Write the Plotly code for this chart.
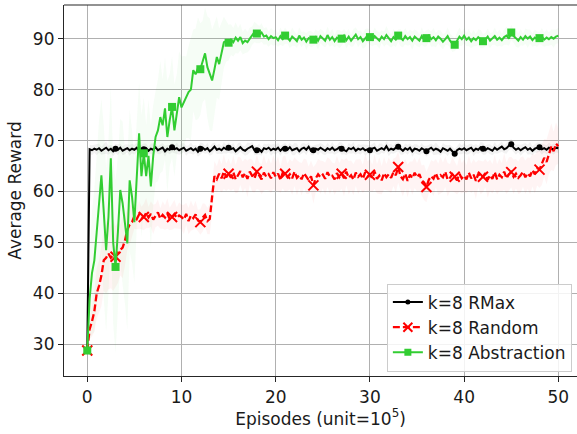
import numpy as np
import plotly.graph_objects as go

# Episodes (unit = 1e5), sampled every 0.25
episodes = np.arange(0, 201) * 0.25

rmax = [
    28.8, 68.3, 68.1, 68.4, 68.2, 68.5, 68.0, 68.3, 68.6, 68.1, 68.4, 67.9, 68.4, 68.2, 68.6, 68.0, 68.3, 68.5, 68.1, 68.4,
    68.2, 68.6, 67.9, 68.4, 68.3, 68.5, 68.0, 68.4, 68.2, 68.7, 68.1, 68.3, 68.6, 67.9, 68.4, 68.2, 68.7, 68.3, 68.5, 68.1,
    68.4, 68.6, 68.0, 68.3, 68.5, 68.1, 68.4, 67.8, 68.4, 68.6, 68.2, 68.5, 67.9, 68.3, 68.8, 68.2, 68.4, 68.1, 68.6, 68.3,
    68.6, 68.3, 68.5, 67.9, 68.4, 68.7, 68.2, 68.0, 68.4, 68.6, 68.9, 68.1, 68.1, 68.3, 67.8, 68.5, 68.3, 68.6, 68.1, 68.4,
    68.2, 68.6, 68.0, 68.5, 68.4, 68.2, 68.7, 68.1, 68.3, 68.5, 67.9, 68.4, 68.6, 68.2, 68.8, 68.0, 68.1, 68.4, 68.2, 68.6,
    68.3, 68.0, 68.5, 68.2, 68.6, 68.1, 68.3, 68.7, 68.4, 68.2, 67.9, 68.5, 68.3, 68.6, 68.0, 68.4, 68.2, 68.5, 68.1, 68.3,
    68.1, 68.4, 68.6, 68.0, 68.3, 68.5, 68.2, 68.9, 68.1, 68.4, 68.2, 68.6, 68.8, 68.3, 68.0, 68.5, 68.2, 68.6, 67.9, 68.4,
    68.3, 68.0, 68.5, 68.2, 67.9, 68.3, 68.6, 68.1, 68.4, 68.2, 67.8, 68.5, 68.3, 68.0, 68.4, 67.9, 67.4, 68.1, 68.4, 68.2,
    68.5, 68.1, 68.3, 68.6, 68.0, 68.4, 68.2, 68.7, 68.4, 68.1, 68.5, 68.3, 68.0, 68.6, 68.2, 68.5, 68.8, 68.3, 68.5, 69.0,
    69.3, 68.6, 68.2, 68.5, 68.1, 68.4, 68.7, 68.2, 68.5, 68.0, 68.4, 68.6, 68.7, 68.3, 68.5, 68.2, 68.6, 68.4, 68.3, 68.6,
    68.5,
]
rmax_std = [0.3] + [0.9, 1.0, 0.8, 1.1, 0.9, 0.8, 1.0, 1.2, 0.9, 0.8, 1.0, 0.9, 1.1, 0.8, 0.9, 1.0, 0.8, 1.1, 0.9, 1.0] * 10

random_ = [
    28.8, 33.0, 34.5, 36.5, 40.0, 41.5, 43.5, 46.5, 47.0, 47.8, 47.0, 47.5, 47.2, 48.0, 48.5, 49.0, 50.4, 52.5, 53.5, 54.0,
    55.2, 54.6, 55.5, 54.8, 55.0, 55.8, 54.9, 55.6, 54.5, 55.3, 55.9, 54.7, 55.4, 54.9, 55.7, 54.6, 55.0, 55.6, 54.8, 55.3,
    55.0, 54.5, 55.6, 54.2, 55.3, 54.8, 55.5, 54.3, 54.0, 54.9, 55.4, 54.2, 54.6, 59.0, 63.0, 62.4, 63.5, 62.6, 63.9, 62.8,
    63.5, 62.7, 63.8, 62.4, 63.3, 64.0, 62.8, 63.6, 62.5, 63.9, 63.1, 62.6, 63.9, 63.0, 62.4, 63.7, 62.9, 63.4, 62.6, 63.8,
    62.9, 63.5, 62.3, 63.7, 63.5, 62.8, 63.4, 62.6, 63.9, 62.7, 63.2, 62.4, 63.6, 62.9, 62.2, 63.0, 61.2, 62.6, 63.4, 62.8,
    63.3, 62.5, 63.8, 62.9, 63.1, 62.4, 63.6, 62.8, 63.5, 62.6, 63.9, 62.7, 63.2, 62.3, 63.7, 62.9, 63.4, 62.5, 63.8, 63.0,
    63.3, 62.6, 63.9, 62.5, 63.1, 62.2, 63.6, 62.8, 63.4, 62.7, 63.8, 63.2, 64.8, 63.0, 62.4, 63.5, 62.1, 63.3, 62.6, 63.7,
    62.8, 63.4, 62.2, 61.8, 60.9, 62.3, 63.0, 62.5, 63.6, 62.4, 63.2, 62.8, 63.9, 62.3, 62.7, 63.4, 62.9, 62.2, 63.5, 62.6,
    63.1, 62.4, 63.7, 62.6, 63.3, 62.1, 63.5, 62.7, 62.9, 63.6, 62.3, 63.2, 62.5, 63.8, 62.4, 63.3, 62.8, 63.9, 62.6, 63.4,
    63.8, 62.9, 63.5, 62.7, 63.2, 63.9, 62.8, 63.6, 63.0, 64.2, 63.4, 64.6, 64.3, 65.3, 66.6, 65.8, 67.5, 68.8, 67.9, 69.4,
    68.9,
]
random_std = [
    0.3, 2.0, 3.0, 4.0, 5.0, 5.0, 6.0, 6.0, 7.0, 7.0, 6.0, 7.0, 6.0, 6.0, 5.0, 6.0, 5.0, 4.0, 4.0, 3.0,
    2.5, 2.0, 2.8, 2.2, 2.6, 3.0, 2.1, 2.5, 2.9, 2.3, 2.6, 2.0, 2.7, 2.4, 3.0, 2.2, 2.5, 2.8, 2.1, 2.6,
    2.4, 2.9, 2.2, 2.6, 3.0, 2.3, 2.7, 2.1, 2.5, 2.8, 2.2, 2.6, 3.0, 3.5, 3.0, 2.6, 3.1, 2.8, 3.4, 2.7,
    3.0, 2.6, 3.3, 2.8, 3.5, 2.7, 3.1, 2.9, 3.6, 2.6, 3.2, 2.8, 3.4, 2.7, 3.0, 3.5, 2.6, 3.2, 2.9, 3.3,
    2.8, 3.4, 2.6, 3.1, 3.6, 2.7, 3.0, 3.3, 2.8, 3.5, 2.6, 3.2, 2.9, 3.4, 2.7, 3.1, 3.6, 2.8, 3.0, 3.3,
    2.7, 3.2, 2.9, 3.5, 2.6, 3.1, 3.4, 2.8, 3.0, 3.6, 2.7, 3.3, 2.9, 3.1, 2.6, 3.4, 3.0, 2.8, 3.5, 2.9,
    3.1, 2.7, 3.4, 2.9, 3.6, 2.8, 3.2, 2.6, 3.3, 3.0, 2.7, 3.5, 3.1, 2.8, 3.4, 2.9, 3.2, 2.6, 3.3, 3.0,
    2.8, 3.3, 2.9, 3.5, 3.0, 2.7, 3.2, 3.4, 2.8, 3.1, 3.6, 2.9, 3.0, 3.3, 2.7, 3.4, 3.1, 2.8, 3.5, 3.0,
    3.2, 2.8, 3.4, 2.9, 3.1, 3.6, 2.7, 3.3, 3.0, 2.8, 3.5, 3.1, 2.9, 3.4, 3.0, 3.2, 2.8, 3.6, 3.1, 3.3,
    3.0, 3.4, 2.9, 3.2, 3.5, 3.0, 3.3, 3.1, 3.6, 3.2, 3.8, 3.4, 3.6, 4.0, 3.7, 4.4, 4.1, 4.6, 3.9, 4.2,
    3.5,
]

abstraction = [
    28.8, 39.0, 44.0, 46.5, 52.0, 58.0, 63.2, 56.0, 48.5, 55.0, 66.5, 50.0, 45.2, 52.0, 60.3, 57.7, 53.0, 49.8, 62.2, 59.0,
    54.0, 64.0, 71.4, 63.0, 67.5, 63.0, 67.0, 61.0, 67.0, 70.7, 72.0, 74.6, 73.0, 76.3, 70.7, 74.0, 76.6, 72.0, 75.0, 78.5,
    76.5, 77.6, 78.5, 79.5, 80.0, 83.8, 83.0, 84.2, 84.0, 85.5, 87.1, 84.4, 83.0, 81.8, 84.0, 86.4, 85.0, 87.0, 89.3, 89.5,
    89.2, 89.8, 89.3, 90.2, 89.6, 90.3, 89.1, 89.6, 89.3, 90.0, 90.6, 91.3, 91.0, 90.8, 91.2, 90.4, 90.6, 89.9, 90.5, 90.1,
    90.3, 89.7, 90.5, 89.9, 90.6, 90.2, 89.6, 90.4, 90.0, 89.5, 90.6, 89.8, 90.2, 89.4, 90.1, 89.9, 89.8, 90.3, 89.6, 90.5,
    90.1, 89.6, 90.7, 89.8, 90.3, 89.5, 90.2, 89.9, 90.0, 90.6, 89.7, 90.4, 89.6, 90.2, 90.8, 89.9, 90.3, 89.5, 90.1, 90.6,
    90.3, 89.8, 90.5, 90.1, 89.6, 90.4, 89.9, 90.7, 90.0, 89.5, 90.3, 89.8, 90.6, 90.2, 89.7, 90.5, 89.9, 90.3, 89.6, 90.4,
    90.0, 89.6, 90.5, 89.8, 90.1, 90.6, 89.9, 90.3, 89.7, 90.4, 90.0, 89.4, 89.9, 90.5, 89.6, 89.0, 88.8, 89.7, 90.4, 89.9,
    90.6, 89.8, 90.2, 89.5, 90.1, 89.7, 90.3, 89.9, 89.5, 89.8, 90.4, 89.6, 90.0, 90.5, 89.8, 90.2, 89.7, 90.3, 90.6, 90.0,
    91.2, 90.5, 90.1, 89.6, 90.3, 89.8, 90.5, 90.0, 90.4, 89.7, 90.2, 89.9, 90.1, 90.4, 89.8, 90.2, 89.9, 90.3, 90.0, 90.4,
    90.6,
]
abstraction_std = [
    0.5, 8.0, 12.0, 14.0, 15.0, 16.0, 15.0, 17.0, 16.0, 15.0, 14.0, 16.0, 17.0, 15.0, 14.0, 16.0, 15.0, 17.0, 14.0, 13.0,
    12.0, 11.0, 10.0, 12.0, 11.0, 10.0, 11.0, 12.0, 10.0, 9.0, 10.0, 11.0, 9.0, 10.0, 11.0, 9.0, 10.0, 9.0, 8.0, 9.0,
    10.0, 9.0, 8.0, 9.0, 10.0, 8.0, 9.0, 10.0, 9.0, 8.0, 9.0, 10.0, 11.0, 10.0, 9.0, 8.0, 7.0, 6.0, 5.0, 4.0,
    3.5, 3.0, 2.8, 3.0, 2.5, 2.6, 2.2, 2.4, 2.0, 2.2, 1.8, 2.0, 1.9, 1.7, 1.8, 1.6, 1.7, 1.5, 1.6, 1.5,
] + [1.5, 1.3, 1.7, 1.4, 1.6, 1.2, 1.5, 1.8, 1.4, 1.3, 1.6, 1.5, 1.2, 1.7, 1.4, 1.6, 1.3, 1.5, 1.8, 1.4] * 6 + [1.5]

labels = ["k=8 RMax", "k=8 Random", "k=8 Abstraction"]
xticks = [0, 10, 20, 30, 40, 50]
yticks = [30, 40, 50, 60, 70, 80, 90]
MARK_EVERY = 12

for arr in (rmax, rmax_std, random_, random_std, abstraction, abstraction_std):
    assert len(arr) == len(episodes), len(arr)

series = [
    dict(y=rmax, s=rmax_std, name=labels[0], color="#000000", band="rgba(0,0,0,0.05)",
         dash="solid", symbol="circle", size=6, lw=2.0),
    dict(y=random_, s=random_std, name=labels[1], color="#ff0000", band="rgba(255,0,0,0.045)",
         dash="7px,3px", symbol="x-thin", size=10, lw=2.3),
    dict(y=abstraction, s=abstraction_std, name=labels[2], color="#32cd32", band="rgba(50,205,50,0.045)",
         dash="solid", symbol="square", size=8, lw=2.0),
]

fig = go.Figure()
x = np.asarray(episodes)

# shaded bands
for sr in series:
    y = np.asarray(sr["y"])
    s = np.asarray(sr["s"])
    fig.add_trace(go.Scatter(x=x, y=y + s, mode="lines", line=dict(width=0),
                             hoverinfo="skip", showlegend=False))
    fig.add_trace(go.Scatter(x=x, y=y - s, mode="lines", line=dict(width=0),
                             fill="tonexty", fillcolor=sr["band"],
                             hoverinfo="skip", showlegend=False))

for sr in series:
    y = np.asarray(sr["y"])
    mline = dict(width=2, color=sr["color"]) if sr["symbol"] == "x-thin" else dict(width=0)
    fig.add_trace(go.Scatter(x=x, y=y, mode="lines",
                             line=dict(color=sr["color"], width=sr["lw"], dash=sr["dash"]),
                             showlegend=False, legendgroup=sr["name"]))
    fig.add_trace(go.Scatter(x=x[::MARK_EVERY], y=y[::MARK_EVERY], mode="markers",
                             marker=dict(symbol=sr["symbol"], size=sr["size"], color=sr["color"], line=mline),
                             showlegend=False, legendgroup=sr["name"]))
    # legend entry
    fig.add_trace(go.Scatter(x=[None], y=[None], mode="lines+markers", name=sr["name"],
                             line=dict(color=sr["color"], width=sr["lw"], dash=sr["dash"]),
                             marker=dict(symbol=sr["symbol"], size=sr["size"] - 1, color=sr["color"], line=mline),
                             legendgroup=sr["name"]))

font = "DejaVu Sans"
axis_common = dict(showgrid=True, gridcolor="#b0b0b0", gridwidth=1, zeroline=False,
                   showline=True, linecolor="#262626", linewidth=1.2,
                   ticks="outside", ticklen=5, tickwidth=1.2, tickcolor="#262626",
                   automargin=False,
                   tickfont=dict(family=font, size=17, color="#1a1a1a"))

fig.update_layout(
    width=577, height=434,
    margin=dict(l=64, r=0, t=5, b=58),
    paper_bgcolor="white", plot_bgcolor="white",
    xaxis=dict(range=[-2.47, 51.98], tickvals=xticks,
               title=dict(text="Episodes (unit=10<sup>5</sup>)", font=dict(family=font, size=17, color="#1a1a1a"),
                          standoff=2),
               **axis_common),
    yaxis=dict(range=[23.8, 96.6], tickvals=yticks,
               title=dict(text="Average Reward", font=dict(family=font, size=17, color="#1a1a1a"),
                          standoff=6),
               **axis_common),
    legend=dict(x=0.990, y=0.012, xanchor="right", yanchor="bottom",
                bgcolor="rgba(255,255,255,0.85)", bordercolor="#cccccc", borderwidth=1,
                font=dict(family=font, size=17, color="#1a1a1a"), tracegroupgap=0,
                itemwidth=30),
    showlegend=True,
)
# top frame line
fig.add_shape(type="line", xref="paper", yref="paper", x0=0, x1=1, y0=1, y1=1,
              line=dict(color="#262626", width=1.2))

fig.write_html("out.html", config={"displayModeBar": False},
               post_script="document.body.style.margin='0';document.body.style.overflow='hidden';")
